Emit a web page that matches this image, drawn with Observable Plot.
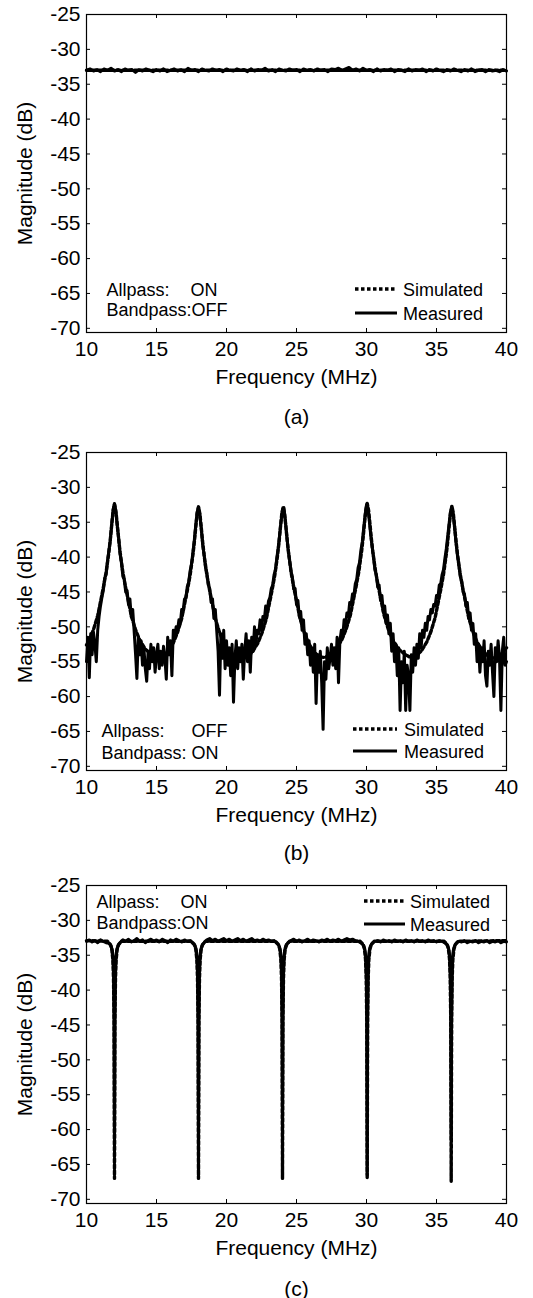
<!DOCTYPE html>
<html><head><meta charset="utf-8">
<script src="https://cdn.jsdelivr.net/npm/d3@7"></script>
<script src="https://cdn.jsdelivr.net/npm/@observablehq/plot@0.6"></script>
<style>
html,body{margin:0;padding:0;background:#fff;}
#chart{width:533px;}
#chart svg{display:block;}
</style></head><body><div id="chart"></div>
<script>
// ---- axis ticks / labels ----
const xTicks = [10, 15, 20, 25, 30, 35, 40];
const yTicks = [-25, -30, -35, -40, -45, -50, -55, -60, -65, -70];
const xLabel = "Frequency (MHz)";
const yLabel = "Magnitude (dB)";
const panelCaptions = ["(a)", "(b)", "(c)"];
const allpassStates = ["ON", "OFF", "ON"];
const bandpassTexts = ["Bandpass:OFF", "Bandpass: ON", "Bandpass:ON"];
const legendNames = ["Simulated", "Measured"];

// ---- (a) Allpass ON, Bandpass OFF : [MHz, dB] ----
const simulatedA = [[10, -33.0], [40, -33.0]];
const measuredA = [[10.00,-33.0],[10.25,-32.8],[10.50,-33.1],[10.75,-32.9],[11.00,-33.2],[11.25,-32.8],[11.50,-33.0],[11.75,-32.7],[12.00,-33.1],[12.25,-32.9],[12.50,-33.2],[12.75,-32.8],[13.00,-33.0],[13.25,-32.9],[13.50,-33.3],[13.75,-32.9],[14.00,-33.1],[14.25,-32.8],[14.50,-33.0],[14.75,-33.2],[15.00,-32.9],[15.25,-33.1],[15.50,-32.8],[15.75,-33.2],[16.00,-33.0],[16.25,-32.8],[16.50,-33.1],[16.75,-32.9],[17.00,-33.2],[17.25,-32.7],[17.50,-33.0],[17.75,-32.9],[18.00,-33.2],[18.25,-32.8],[18.50,-33.0],[18.75,-33.1],[19.00,-32.8],[19.25,-33.0],[19.50,-32.9],[19.75,-33.2],[20.00,-32.8],[20.25,-33.0],[20.50,-33.1],[20.75,-32.8],[21.00,-33.0],[21.25,-32.9],[21.50,-33.2],[21.75,-32.8],[22.00,-33.1],[22.25,-32.9],[22.50,-33.0],[22.75,-32.7],[23.00,-33.1],[23.25,-32.9],[23.50,-33.2],[23.75,-32.8],[24.00,-33.0],[24.25,-33.1],[24.50,-32.8],[24.75,-33.0],[25.00,-32.9],[25.25,-33.2],[25.50,-32.8],[25.75,-33.0],[26.00,-32.9],[26.25,-33.1],[26.50,-32.8],[26.75,-33.0],[27.00,-32.9],[27.25,-33.2],[27.50,-32.8],[27.75,-32.9],[28.00,-32.7],[28.25,-33.0],[28.50,-32.8],[28.75,-32.6],[29.00,-33.0],[29.25,-32.8],[29.50,-33.1],[29.75,-32.7],[30.00,-33.0],[30.25,-32.9],[30.50,-33.2],[30.75,-32.8],[31.00,-33.1],[31.25,-32.9],[31.50,-33.0],[31.75,-32.8],[32.00,-33.2],[32.25,-32.9],[32.50,-33.0],[32.75,-33.2],[33.00,-32.8],[33.25,-33.1],[33.50,-32.9],[33.75,-33.0],[34.00,-32.8],[34.25,-33.2],[34.50,-32.9],[34.75,-33.1],[35.00,-32.8],[35.25,-33.0],[35.50,-33.2],[35.75,-32.9],[36.00,-33.1],[36.25,-32.8],[36.50,-33.0],[36.75,-33.2],[37.00,-32.9],[37.25,-33.1],[37.50,-32.8],[37.75,-33.2],[38.00,-33.0],[38.25,-32.9],[38.50,-33.2],[38.75,-32.9],[39.00,-33.1],[39.25,-33.0],[39.50,-33.2],[39.75,-32.9],[40.00,-33.1]];

// ---- (b) Allpass OFF, Bandpass ON ----
const simulatedB = [[10.0,-52.6],[10.2,-51.9],[10.5,-50.4],[10.8,-48.4],[11.0,-46.4],[11.2,-44.4],[11.4,-42.2],[11.6,-39.3],[11.7,-37.5],[11.8,-35.4],[11.9,-33.4],[12.0,-32.4],[12.1,-33.4],[12.2,-35.4],[12.3,-37.5],[12.4,-39.3],[12.6,-42.2],[12.8,-44.4],[13.0,-46.4],[13.2,-48.4],[13.5,-50.4],[13.8,-51.9],[14.2,-53.2],[14.6,-53.9],[15.0,-54.4],
[15.4,-54.3],[15.8,-53.6],[16.2,-52.3],[16.5,-50.8],[16.8,-48.8],[17.0,-46.8],[17.2,-44.8],[17.4,-42.6],[17.6,-39.7],[17.7,-37.9],[17.8,-35.8],[17.9,-33.8],[18.0,-32.8],[18.1,-33.8],[18.2,-35.8],[18.3,-37.9],[18.4,-39.7],[18.6,-42.6],[18.8,-44.8],[19.0,-46.8],[19.2,-48.8],[19.5,-50.8],[19.8,-52.3],[20.2,-53.6],[20.6,-54.3],[21.0,-54.6],
[21.45,-54.3],[21.85,-53.6],[22.25,-52.3],[22.55,-50.8],[22.85,-48.8],[23.05,-46.8],[23.25,-44.8],[23.45,-42.6],[23.65,-39.7],[23.75,-37.9],[23.85,-35.8],[23.95,-33.8],[24.05,-32.8],[24.15,-33.8],[24.25,-35.8],[24.35,-37.9],[24.45,-39.7],[24.65,-42.6],[24.85,-44.8],[25.05,-46.8],[25.25,-48.8],[25.55,-50.8],[25.85,-52.3],[26.25,-53.6],[26.65,-54.3],[27.05,-54.4],
[27.45,-53.8],[27.85,-53.1],[28.25,-51.8],[28.55,-50.3],[28.85,-48.3],[29.05,-46.3],[29.25,-44.3],[29.45,-42.1],[29.65,-39.2],[29.75,-37.4],[29.85,-35.3],[29.95,-33.3],[30.05,-32.3],[30.15,-33.3],[30.25,-35.3],[30.35,-37.4],[30.45,-39.2],[30.65,-42.1],[30.85,-44.3],[31.05,-46.3],[31.25,-48.3],[31.55,-50.3],[31.85,-51.8],[32.25,-53.1],[32.65,-53.8],[33.05,-54.3],
[33.5,-54.2],[33.9,-53.5],[34.3,-52.2],[34.6,-50.7],[34.9,-48.7],[35.1,-46.7],[35.3,-44.7],[35.5,-42.5],[35.7,-39.6],[35.8,-37.8],[35.9,-35.7],[36.0,-33.7],[36.1,-32.7],[36.2,-33.7],[36.3,-35.7],[36.4,-37.8],[36.5,-39.6],[36.7,-42.5],[36.9,-44.7],[37.1,-46.7],[37.3,-48.7],[37.6,-50.7],[37.9,-52.2],[38.3,-53.5],[38.7,-54.2],[39.1,-54.5],[39.5,-54.2],[40.0,-53.0]];
const measuredB = [[10.0,-55.0],[10.1,-51.5],[10.2,-57.3],[10.3,-51.0],[10.4,-54.0],[10.5,-50.8],[10.6,-52.5],[10.7,-55.0],[10.8,-50.5],[10.9,-48.5],[11.0,-47.0],[11.1,-45.8],[11.2,-44.8],[11.3,-43.0],[11.4,-42.5],[11.5,-40.6],[11.6,-39.0],[11.7,-37.6],[11.8,-35.3],[11.9,-33.2],[12.0,-32.3],[12.1,-33.6],[12.2,-35.6],[12.3,-37.2],[12.4,-39.6],[12.5,-40.9],[12.6,-42.8],[12.7,-43.2],[12.8,-45.0],[12.9,-44.8],[13.0,-46.8],[13.1,-46.0],[13.2,-48.6],[13.3,-47.5],[13.4,-50.5],[13.5,-53.8],[13.6,-57.4],[13.7,-51.5],[13.8,-54.0],[13.9,-52.0],[14.0,-55.5],[14.1,-53.0],[14.2,-56.0],[14.3,-57.8],[14.4,-53.5],[14.5,-56.0],[14.6,-52.5],[14.7,-55.0],[14.8,-53.0],[14.9,-56.5],[15.0,-54.0],[15.1,-52.5],[15.2,-56.0],[15.3,-53.5],[15.4,-55.5],[15.5,-52.8],[15.6,-54.5],[15.7,-57.5],[15.8,-51.5],[15.9,-54.0],[16.0,-52.0],[16.1,-57.0],[16.2,-50.5],[16.3,-51.5],[16.4,-50.0],[16.5,-50.5],[16.6,-49.0],[16.7,-49.5],[16.8,-47.5],[16.9,-47.8],[17.0,-46.0],[17.1,-45.8],[17.2,-44.2],[17.3,-43.6],[17.4,-42.0],[17.5,-41.0],[17.6,-39.3],[17.7,-37.6],[17.8,-35.5],[17.9,-33.6],[18.0,-32.8],[18.1,-34.0],[18.2,-36.0],[18.3,-38.3],[18.4,-39.6],[18.5,-41.5],[18.6,-42.3],[18.7,-44.0],[18.8,-44.5],[18.9,-46.5],[19.0,-46.0],[19.1,-48.8],[19.2,-47.5],[19.3,-50.5],[19.4,-53.5],[19.5,-59.8],[19.6,-51.0],[19.7,-54.5],[19.8,-50.5],[19.9,-56.0],[20.0,-52.0],[20.1,-55.5],[20.2,-53.0],[20.3,-57.0],[20.4,-52.5],[20.5,-60.8],[20.6,-54.5],[20.7,-52.0],[20.8,-56.0],[20.9,-53.0],[21.0,-55.0],[21.1,-52.5],[21.2,-57.5],[21.3,-53.5],[21.4,-51.0],[21.5,-55.0],[21.6,-52.0],[21.7,-56.5],[21.8,-51.5],[21.9,-53.5],[22.0,-50.0],[22.1,-52.5],[22.2,-50.5],[22.3,-51.0],[22.4,-49.0],[22.5,-50.5],[22.6,-48.5],[22.7,-49.0],[22.8,-47.0],[22.9,-48.0],[23.0,-46.3],[23.1,-45.8],[23.2,-44.5],[23.3,-44.0],[23.4,-42.5],[23.5,-41.8],[23.6,-40.0],[23.7,-38.6],[23.8,-36.7],[23.9,-34.8],[24.0,-33.2],[24.1,-32.9],[24.2,-34.7],[24.3,-36.8],[24.4,-38.8],[24.5,-40.3],[24.6,-42.0],[24.7,-42.8],[24.8,-44.6],[24.9,-44.5],[25.0,-46.8],[25.1,-46.2],[25.2,-48.5],[25.3,-47.8],[25.4,-50.5],[25.5,-49.0],[25.6,-52.5],[25.7,-51.0],[25.8,-54.0],[25.9,-52.0],[26.0,-55.5],[26.1,-53.0],[26.2,-56.5],[26.3,-52.5],[26.4,-61.0],[26.5,-54.0],[26.6,-56.5],[26.7,-53.5],[26.8,-58.0],[26.9,-64.7],[27.0,-55.0],[27.1,-57.5],[27.2,-53.0],[27.3,-56.0],[27.4,-54.5],[27.5,-52.5],[27.6,-55.5],[27.7,-53.0],[27.8,-56.0],[27.9,-51.5],[28.0,-58.0],[28.1,-52.0],[28.2,-50.5],[28.3,-51.5],[28.4,-49.0],[28.5,-49.8],[28.6,-48.0],[28.7,-48.5],[28.8,-46.5],[28.9,-46.8],[29.0,-45.3],[29.1,-45.5],[29.2,-43.8],[29.3,-43.2],[29.4,-41.5],[29.5,-40.8],[29.6,-39.0],[29.7,-37.8],[29.8,-35.8],[29.9,-34.0],[30.0,-32.5],[30.1,-33.0],[30.2,-34.8],[30.3,-36.8],[30.4,-38.5],[30.5,-40.0],[30.6,-41.8],[30.7,-42.5],[30.8,-44.3],[30.9,-44.0],[31.0,-46.2],[31.1,-45.5],[31.2,-47.8],[31.3,-47.0],[31.4,-49.5],[31.5,-48.3],[31.6,-51.0],[31.7,-49.5],[31.8,-53.5],[31.9,-51.0],[32.0,-55.0],[32.1,-52.5],[32.2,-57.0],[32.3,-53.0],[32.4,-62.0],[32.5,-55.0],[32.6,-58.0],[32.7,-53.5],[32.8,-62.0],[32.9,-55.5],[33.0,-57.0],[33.1,-62.0],[33.2,-54.0],[33.3,-56.5],[33.4,-53.0],[33.5,-55.5],[33.6,-52.5],[33.7,-54.5],[33.8,-51.0],[33.9,-53.0],[34.0,-50.5],[34.1,-51.5],[34.2,-49.5],[34.3,-50.5],[34.4,-48.5],[34.5,-49.0],[34.6,-47.5],[34.7,-48.0],[34.8,-46.8],[34.9,-47.0],[35.0,-45.5],[35.1,-45.8],[35.2,-44.0],[35.3,-43.8],[35.4,-42.5],[35.5,-41.8],[35.6,-40.2],[35.7,-38.8],[35.8,-37.0],[35.9,-35.2],[36.0,-33.5],[36.1,-32.8],[36.2,-34.0],[36.3,-36.0],[36.4,-38.0],[36.5,-39.8],[36.6,-41.3],[36.7,-42.8],[36.8,-43.5],[36.9,-45.0],[37.0,-45.3],[37.1,-47.0],[37.2,-46.5],[37.3,-48.8],[37.4,-48.0],[37.5,-50.5],[37.6,-49.5],[37.7,-52.5],[37.8,-51.0],[37.9,-55.0],[38.0,-52.5],[38.1,-56.5],[38.2,-53.0],[38.3,-55.0],[38.4,-52.0],[38.5,-57.0],[38.6,-58.5],[38.7,-53.5],[38.8,-55.5],[38.9,-52.5],[39.0,-56.5],[39.1,-60.0],[39.2,-53.0],[39.3,-55.0],[39.4,-52.0],[39.5,-54.5],[39.6,-62.0],[39.7,-53.5],[39.8,-51.5],[39.9,-55.5],[40.0,-55.0]];

// ---- (c) Allpass ON, Bandpass ON ----
const simulatedC = [[10,-32.9],[11.5,-33.0],[11.7,-33.45],[11.8,-34.05],[11.88,-35.55],[11.93,-38.3],[11.97,-44.5],[12.0,-67.0],[12.03,-44.5],[12.07,-38.3],[12.12,-35.55],[12.2,-34.05],[12.3,-33.45],[12.5,-33.0],
[17.5,-33.0],[17.7,-33.45],[17.8,-34.05],[17.88,-35.55],[17.93,-38.3],[17.97,-44.5],[18.0,-67.0],[18.03,-44.5],[18.07,-38.3],[18.12,-35.55],[18.2,-34.05],[18.3,-33.45],[18.5,-33.0],
[23.5,-33.0],[23.7,-33.45],[23.8,-34.05],[23.88,-35.55],[23.93,-38.3],[23.97,-44.5],[24.0,-67.0],[24.03,-44.5],[24.07,-38.3],[24.12,-35.55],[24.2,-34.05],[24.3,-33.45],[24.5,-33.0],
[29.55,-33.0],[29.75,-33.45],[29.85,-34.05],[29.93,-35.55],[29.98,-38.3],[30.02,-44.5],[30.05,-67.0],[30.08,-44.5],[30.12,-38.3],[30.17,-35.55],[30.25,-34.05],[30.35,-33.45],[30.55,-33.0],
[35.55,-33.0],[35.75,-33.45],[35.85,-34.05],[35.93,-35.55],[35.98,-38.3],[36.02,-44.5],[36.05,-67.4],[36.08,-44.5],[36.12,-38.3],[36.17,-35.55],[36.25,-34.05],[36.35,-33.45],[36.55,-33.0],[40,-32.9]];
const measuredC = [[10.0,-33.0],[10.2,-32.8],[10.4,-33.1],[10.6,-32.9],[10.8,-33.2],[11.0,-32.8],[11.2,-33.0],[11.4,-33.2],[11.6,-33.3],
[11.75,-33.6],[11.85,-34.3],[11.9,-35.3],[11.94,-37.8],[11.97,-44.0],[12.0,-63.5],[12.03,-44.0],[12.06,-37.8],[12.1,-35.3],[12.15,-34.3],[12.25,-33.6],[12.4,-33.2],
[12.6,-32.8],[12.8,-33.0],[13.0,-32.7],[13.2,-33.1],[13.4,-32.9],[13.6,-32.6],[13.8,-33.0],[14.0,-32.8],[14.2,-33.2],[14.4,-32.9],[14.6,-32.7],[14.8,-33.0],[15.0,-32.8],[15.2,-33.1],[15.4,-32.7],[15.6,-32.9],[15.8,-33.2],[16.0,-32.8],[16.2,-33.0],[16.4,-32.7],[16.6,-32.9],[16.8,-33.1],[17.0,-32.8],[17.2,-33.0],[17.4,-32.9],[17.6,-33.3],
[17.75,-33.6],[17.85,-34.3],[17.9,-35.3],[17.94,-37.8],[17.97,-44.0],[18.0,-64.0],[18.03,-44.0],[18.06,-37.8],[18.1,-35.3],[18.15,-34.3],[18.25,-33.6],[18.4,-33.2],
[18.6,-32.8],[18.8,-32.6],[19.0,-32.9],[19.2,-32.7],[19.4,-33.0],[19.6,-32.8],[19.8,-32.6],[20.0,-32.9],[20.2,-32.7],[20.4,-33.0],[20.6,-32.8],[20.8,-32.6],[21.0,-32.9],[21.2,-32.7],[21.4,-33.0],[21.6,-32.8],[21.8,-32.6],[22.0,-32.9],[22.2,-32.8],[22.4,-33.0],[22.6,-32.7],[22.8,-32.9],[23.0,-32.8],[23.2,-33.0],[23.4,-32.9],[23.6,-33.3],
[23.75,-33.6],[23.85,-34.3],[23.9,-35.3],[23.94,-37.8],[23.97,-44.0],[24.0,-61.5],[24.03,-44.0],[24.06,-37.8],[24.1,-35.3],[24.15,-34.3],[24.25,-33.6],[24.4,-33.2],
[24.6,-32.9],[24.8,-32.7],[25.0,-33.0],[25.2,-32.8],[25.4,-33.1],[25.6,-32.9],[25.8,-32.7],[26.0,-33.0],[26.2,-32.8],[26.4,-32.9],[26.6,-33.1],[26.8,-32.8],[27.0,-32.9],[27.2,-32.7],[27.4,-33.0],[27.6,-32.8],[27.8,-32.9],[28.0,-32.7],[28.2,-33.0],[28.4,-32.8],[28.6,-32.6],[28.8,-32.8],[29.0,-32.7],[29.2,-32.9],[29.4,-33.0],[29.65,-33.3],
[29.8,-33.6],[29.9,-34.3],[29.95,-35.3],[29.99,-37.8],[30.02,-44.0],[30.05,-66.5],[30.08,-44.0],[30.11,-37.8],[30.15,-35.3],[30.2,-34.3],[30.3,-33.6],[30.45,-33.2],
[30.6,-33.0],[30.8,-32.9],[31.0,-33.1],[31.2,-32.8],[31.4,-33.0],[31.6,-32.9],[31.8,-33.1],[32.0,-32.8],[32.2,-33.0],[32.4,-32.9],[32.6,-33.1],[32.8,-32.8],[33.0,-33.0],[33.2,-32.9],[33.4,-33.1],[33.6,-32.8],[33.8,-33.0],[34.0,-32.9],[34.2,-33.1],[34.4,-32.8],[34.6,-33.0],[34.8,-32.9],[35.0,-33.1],[35.2,-32.9],[35.4,-33.0],[35.65,-33.3],
[35.8,-33.6],[35.9,-34.3],[35.95,-35.3],[35.99,-37.8],[36.02,-44.0],[36.05,-61.5],[36.08,-44.0],[36.11,-37.8],[36.15,-35.3],[36.2,-34.3],[36.3,-33.6],[36.45,-33.2],
[36.6,-33.0],[36.8,-33.1],[37.0,-32.9],[37.2,-33.2],[37.4,-33.0],[37.6,-33.1],[37.8,-32.9],[38.0,-33.2],[38.2,-33.0],[38.4,-33.1],[38.6,-32.9],[38.8,-33.2],[39.0,-33.0],[39.2,-33.1],[39.4,-32.9],[39.6,-33.2],[39.8,-33.0],[40.0,-33.1]];

// ---- layout ----
const W = 533, ML = 86, MR = 27, MT = 14, PH = 318, PW = W - ML - MR;
const FONT = "'Liberation Sans', Arial, Helvetica, sans-serif";
const SIM_W = 3.4, SIM_DASH = "3.5,2.5", MEAS_W = 3;

function panel(o) {
  const MB = o.H - MT - PH;
  const right = W - MR, top = MT, bottom = MT + PH;
  const annotAnchor = o.annotTop ? "top-left" : "bottom-left";
  const svg = Plot.plot({
    width: W, height: o.H,
    marginLeft: ML, marginRight: MR, marginTop: MT, marginBottom: MB,
    x: {domain: [10, 40]},
    y: {domain: [-70.6, -25]},
    style: {fontFamily: FONT, fontSize: "21px", color: "#000", background: "#fff", overflow: "visible"},
    marks: [
      Plot.line(o.sim, {x: d => d[0], y: d => d[1], stroke: "#000", strokeWidth: SIM_W, strokeDasharray: SIM_DASH}),
      Plot.line(o.meas, {x: d => d[0], y: d => d[1], stroke: "#000", strokeWidth: MEAS_W, strokeLinejoin: "round"}),
      Plot.frame({stroke: "#000", strokeWidth: 1.2}),
      Plot.tickX(xTicks, {x: d => d, insetTop: PH - 4, stroke: "#000"}),
      Plot.tickX(xTicks, {x: d => d, insetBottom: PH - 4, stroke: "#000"}),
      Plot.tickY(yTicks, {y: d => d, insetRight: PW - 4, stroke: "#000"}),
      Plot.tickY(yTicks, {y: d => d, insetLeft: PW - 4, stroke: "#000"}),
      Plot.axisX(xTicks, {anchor: "bottom", tickSize: 0, tickPadding: 9, fontSize: 21, label: null}),
      Plot.axisY(yTicks, {anchor: "left", tickSize: 0, tickPadding: 6, fontSize: 21, label: null, tickFormat: d => String(d)}),
      Plot.text([yLabel], {frameAnchor: "left", dx: -61, rotate: -90, textAnchor: "middle", lineAnchor: "middle", fontSize: 21, fill: "#000"}),
      Plot.text([xLabel], {frameAnchor: "bottom", dy: 51, textAnchor: "middle", lineAnchor: "bottom", fontSize: 21, fill: "#000"}),
      Plot.text([o.caption], {frameAnchor: "bottom", dy: o.capDy, textAnchor: "middle", lineAnchor: "bottom", fontSize: 21, fill: "#000"}),
      Plot.text(["Allpass:"], {frameAnchor: annotAnchor, dx: o.aDx, dy: o.aDy1, textAnchor: "start", lineAnchor: "bottom", fontSize: 18, fill: "#000"}),
      Plot.text([o.allpass], {frameAnchor: annotAnchor, dx: o.aDx2, dy: o.aDy1, textAnchor: "start", lineAnchor: "bottom", fontSize: 18, fill: "#000"}),
      Plot.text([o.bandpass], {frameAnchor: annotAnchor, dx: o.aDx, dy: o.aDy2, textAnchor: "start", lineAnchor: "bottom", fontSize: 18, fill: "#000"})
    ]
  });
  // legend (top or bottom right)
  const base = o.legTop ? top : bottom;
  const g = d3.select(svg).append("g")
    .attr("font-family", FONT).attr("font-size", 18).attr("text-anchor", "start");
  legendNames.forEach((name, i) => {
    const ly = base + o.legY[i];
    g.append("line").attr("x1", right + o.legX1).attr("x2", right + o.legX2)
      .attr("y1", ly).attr("y2", ly).attr("stroke", "#000")
      .attr("stroke-width", i === 0 ? SIM_W : MEAS_W)
      .attr("stroke-dasharray", i === 0 ? SIM_DASH : null);
    g.append("text").attr("x", right + o.legTx).attr("y", ly + 6.5)
      .attr("text-anchor", "start").attr("fill", "#000").text(name);
  });
  return svg;
}

const chart = document.getElementById("chart");
chart.appendChild(panel({H: 438, sim: simulatedA, meas: measuredA, caption: panelCaptions[0],
  allpass: allpassStates[0], bandpass: bandpassTexts[0], annotTop: false, aDx: 20, aDx2: 104, aDy1: -37, aDy2: -17,
  capDy: 91, legTop: false, legY: [-43, -19], legX1: -151, legX2: -109, legTx: -103}));
chart.appendChild(panel({H: 433, sim: simulatedB, meas: measuredB, caption: panelCaptions[1],
  allpass: allpassStates[1], bandpass: bandpassTexts[1], annotTop: false, aDx: 15, aDx2: 105, aDy1: -34, aDy2: -12,
  capDy: 89, legTop: false, legY: [-41, -19], legX1: -153, legX2: -109, legTx: -102}));
chart.appendChild(panel({H: 427, sim: simulatedC, meas: measuredC, caption: panelCaptions[2],
  allpass: allpassStates[2], bandpass: bandpassTexts[2], annotTop: true, aDx: 10, aDx2: 94, aDy1: 22, aDy2: 43,
  capDy: 92, legTop: true, legY: [16, 39], legX1: -142, legX2: -101, legTx: -96}));
</script>
</body></html>
